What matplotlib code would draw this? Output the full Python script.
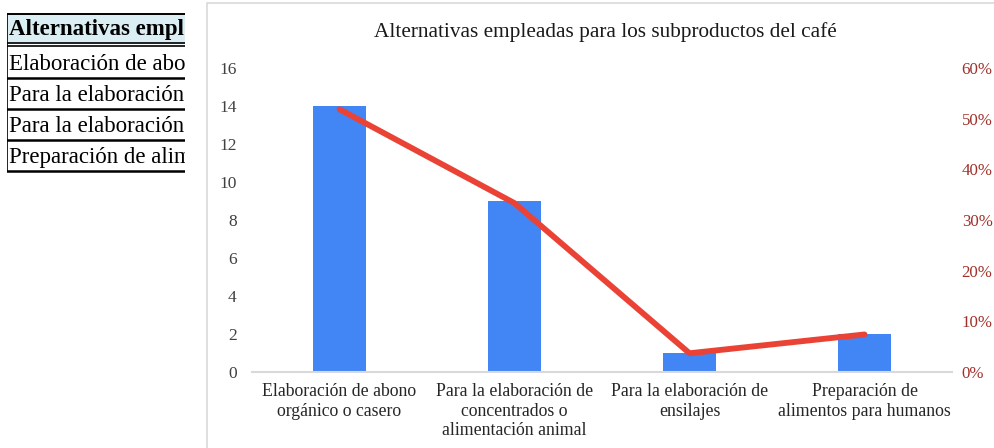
import matplotlib
matplotlib.use("Agg")
import matplotlib.pyplot as plt
from matplotlib.patches import Rectangle
from matplotlib.ticker import FuncFormatter

# ---- data ----
categories = [
    "Elaboración de abono\norgánico o casero",
    "Para la elaboración de\nconcentrados o\nalimentación animal",
    "Para la elaboración de\nensilajes",
    "Preparación de\nalimentos para humanos",
]
# visible (cut-off) part of the spreadsheet cells next to the chart
table_header = "Alternativas empl"
table_rows = [
    "Elaboración de abo",
    "Para la elaboración",
    "Para la elaboración",
    "Preparación de alim",
]
counts = [14, 9, 1, 2]
percents = [0.5185, 0.3333, 0.0370, 0.0741]
title = "Alternativas empleadas para los subproductos del café"
left_ticks = [0, 2, 4, 6, 8, 10, 12, 14, 16]
right_ticks = [0, 0.1, 0.2, 0.3, 0.4, 0.5, 0.6]

W, H = 995, 448
SERIF = ["Liberation Serif", "DejaVu Serif"]
plt.rcParams["font.family"] = SERIF

fig = plt.figure(figsize=(W / 100, H / 100), dpi=100)

def fx(px):
    return px / W

def fy(py):
    return 1 - py / H

# ---- chart border ----
fig.patches.append(Rectangle((fx(207), fy(H + 5)), fx(W + 10) - fx(207), fy(3) - fy(H + 5),
                             transform=fig.transFigure, fill=False, edgecolor="#D9D9D9",
                             linewidth=1.2, zorder=0))

# ---- spreadsheet table ----
tx0, tx1 = 7, 185
tab = fig.add_axes([fx(tx0), fy(175), fx(tx1) - fx(tx0), fy(10) - fy(175)])
tab.set_xlim(tx0, tx1)
tab.set_ylim(175, 10)
tab.axis("off")
tab.add_patch(Rectangle((tx0, 14), tx1 - tx0, 30, facecolor="#DAEEF3", edgecolor="none"))
tab.plot([tx0, tx1], [14, 14], color="black", linewidth=1.4)
tab.plot([tx0, tx1], [43.5, 43.5], color="black", linewidth=1.2)
tab.plot([tx0, tx1], [46.5, 46.5], color="black", linewidth=1.2)
row_h = 31.0
tops = [47 + i * row_h for i in range(len(table_rows) + 1)]
for yb in tops[1:]:
    tab.plot([tx0, tx1], [yb, yb], color="black", linewidth=1.8)
tab.plot([tx0 + 0.5, tx0 + 0.5], [14, tops[-1]], color="black", linewidth=1.2)
tab.text(tx0 + 2, 29, table_header, fontsize=16.5, fontweight="bold", va="center",
         ha="left", clip_on=True)
for i, r in enumerate(table_rows):
    tab.text(tx0 + 2, tops[i] + row_h / 2 + 2, r, fontsize=16.5, va="center", ha="left",
             clip_on=True)

# ---- chart ----
ax = fig.add_axes([fx(252), fy(372), fx(952) - fx(252), fy(68) - fy(372)])
x = list(range(len(categories)))
ax.bar(x, counts, width=0.30, color="#4285F4", zorder=2)
ax.set_xlim(-0.5, len(categories) - 0.5)
ax.set_ylim(0, 16)
ax.set_yticks(left_ticks)
ax.set_xticks(x)
ax.set_xticklabels(categories, fontsize=12.8, color="#262626", linespacing=1.2)
ax.tick_params(axis="x", length=0, pad=8)
ax.tick_params(axis="y", length=0, pad=11, labelsize=12.5, labelcolor="#404040")
for s in ["top", "right", "left"]:
    ax.spines[s].set_visible(False)
ax.spines["bottom"].set_color("#D9D9D9")
ax.spines["bottom"].set_linewidth(1.5)

ax2 = ax.twinx()
ax2.plot(x, percents, color="#EA4335", linewidth=4.2, solid_capstyle="round", zorder=3)
ax2.set_ylim(0, 0.6)
ax2.set_yticks(right_ticks)
ax2.yaxis.set_major_formatter(FuncFormatter(lambda v, p: f"{v * 100:.0f}%"))
ax2.tick_params(axis="y", length=0, pad=7, labelsize=12.2, labelcolor="#A0302A")
for s in ["top", "right", "left", "bottom"]:
    ax2.spines[s].set_visible(False)

fig.text(fx(605), fy(32), title, fontsize=15.3, ha="center", va="center", color="#1a1a1a")

fig.savefig("out.png", dpi=100)
